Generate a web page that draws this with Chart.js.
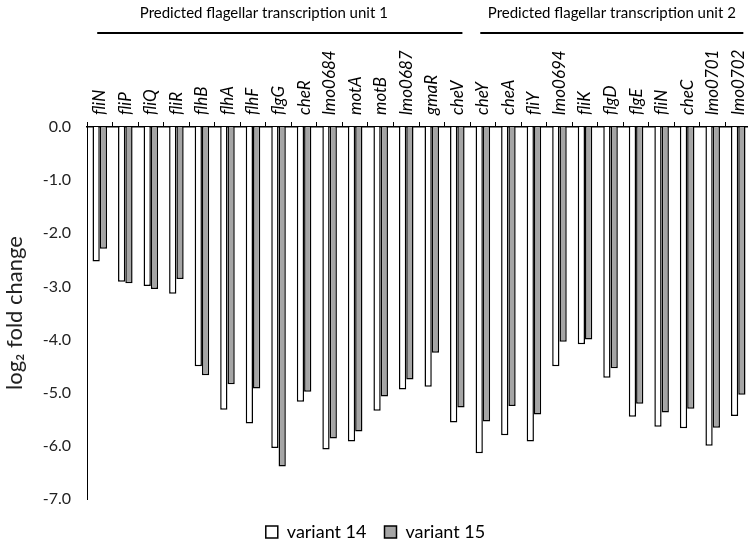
<!DOCTYPE html>
<html>
<head>
<meta charset="utf-8">
<script src="https://cdn.jsdelivr.net/npm/chart.js@4.4.1/dist/chart.umd.min.js"></script>
<style>
html,body{margin:0;padding:0;overflow:hidden;background:#fff;}
#wrap{width:752px;height:548px;}
</style>
</head>
<body>
<div id="wrap"><canvas id="c" width="752" height="548"></canvas></div>
<script>
// genes in operon order, log2 fold change
const genes = ['fliN','fliP','fliQ','fliR','flhB','flhA','flhF','flgG','cheR','lmo0684','motA','motB','lmo0687','gmaR','cheV',
               'cheY','cheA','fliY','lmo0694','fliK','flgD','flgE','fliN','cheC','lmo0701','lmo0702'];
const variant14 = [-2.53,-2.91,-2.99,-3.14,-4.50,-5.32,-5.58,-6.04,-5.17,-6.07,-5.92,-5.34,-4.94,-4.89,-5.56,
                   -6.14,-5.80,-5.92,-4.50,-4.09,-4.72,-5.45,-5.64,-5.67,-6.00,-5.44];
const variant15 = [-2.29,-2.94,-3.05,-2.86,-4.67,-4.84,-4.92,-6.39,-4.98,-5.86,-5.73,-5.07,-4.75,-4.25,-5.28,
                   -5.54,-5.25,-5.41,-4.04,-4.00,-4.54,-5.21,-5.37,-5.30,-5.66,-5.04];
const seriesNames = ['variant 14','variant 15'];
const unitLabels = ['Predicted flagellar transcription unit 1','Predicted flagellar transcription unit 2'];
const unitFirst = [0, 15];
const unitLast = [14, 25];
const yMin = -7, yMax = 0, yStep = 1;

const FONT = 'Lato';

// chart.js shifts rotated labels on a top axis sideways, so the gene names
// are written here at the category centres of the x scale
const geneLabels = {
  id:'geneLabels',
  afterDraw(chart){
    const x = chart.scales.x, g = chart.ctx;
    g.save();
    g.fillStyle = '#000';
    g.font = `italic 17px ${FONT}`; g.textAlign = 'left'; g.textBaseline = 'middle';
    x.getLabels().forEach((t,i)=>{
      g.save();
      g.translate(x.getPixelForValue(i), x.bottom - 12);
      g.rotate(-Math.PI/2);
      g.fillText(t, 0, 0);
      g.restore();
    });
    g.restore();
  }
};

// bracket lines + titles over the gene labels
const unitHeaders = {
  id:'unitHeaders',
  afterDraw(chart){
    const x = chart.scales.x, g = chart.ctx;
    const w = x.getPixelForValue(1) - x.getPixelForValue(0);
    const shift = [-16, 0];
    g.save();
    g.strokeStyle = '#000'; g.lineWidth = 2;
    g.fillStyle = '#000';
    g.font = `15px ${FONT}`; g.textAlign = 'center'; g.textBaseline = 'middle';
    unitLabels.forEach((t,i)=>{
      const a = x.getPixelForValue(unitFirst[i]) - 0.1*w;
      const b = x.getPixelForValue(unitLast[i]) + 0.2*w;
      g.beginPath(); g.moveTo(a,33); g.lineTo(b,33); g.stroke();
      g.fillText(t, (a+b)/2 + shift[i], 13);
    });
    g.restore();
  }
};

// nudge legend down a bit, under the axis end
const legendNudge = {
  id:'legendNudge',
  afterLayout(chart){
    const l = chart.legend;
    if(!l) return;
    l.top += 6; l.bottom += 6;
  }
};

new Chart(document.getElementById('c'), {
  type:'bar',
  data:{
    labels:genes,
    datasets:[
      {label:seriesNames[0], data:variant14, backgroundColor:'#ffffff', borderColor:'#000', borderWidth:1.5},
      {label:seriesNames[1], data:variant15, backgroundColor:'#a5a5a5', borderColor:'#000', borderWidth:1.5}
    ]
  },
  options:{
    responsive:false, animation:false,
    layout:{padding:{left:0, right:1, top:0, bottom:3}},
    datasets:{bar:{categoryPercentage:0.57, barPercentage:1.0}},
    scales:{
      x:{
        position:'top',
        afterFit:s=>{ s.height = 127; },
        grid:{display:true, drawOnChartArea:false, drawTicks:true, tickLength:5, color:'#000', lineWidth:1},
        border:{display:true, color:'#000', width:1.5},
        ticks:{display:false, autoSkip:false}
      },
      y:{
        min:yMin, max:yMax,
        afterFit:s=>{ s.width = 87; },
        grid:{display:false, drawTicks:false},
        border:{display:true, color:'#000', width:1},
        ticks:{stepSize:yStep, color:'#222', padding:16, font:{family:FONT, size:16},
               callback:v=>Number(v).toFixed(1)},
        title:{display:true, text:'log₂ fold change', color:'#222', font:{family:FONT, size:22}, padding:{top:2, bottom:0}}
      }
    },
    plugins:{
      legend:{position:'bottom',
        labels:{boxWidth:12, boxHeight:12, padding:18, color:'#000', font:{family:FONT, size:18}}},
      tooltip:{enabled:false}
    }
  },
  plugins:[geneLabels, unitHeaders, legendNudge]
});
</script>
</body>
</html>
